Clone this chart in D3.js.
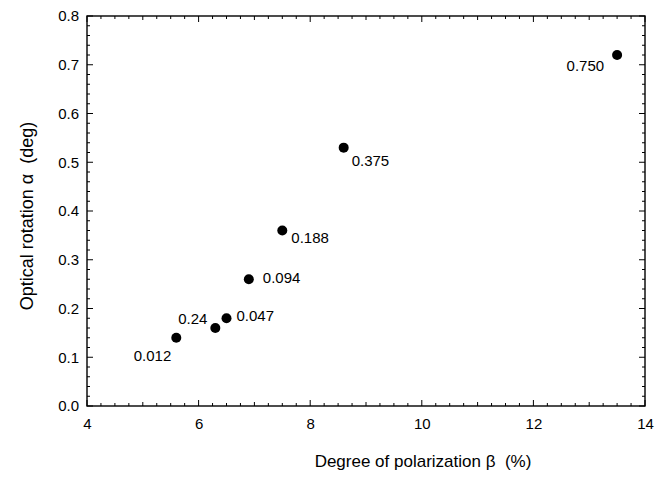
<!DOCTYPE html>
<html><head><meta charset="utf-8">
<script src="https://cdn.jsdelivr.net/npm/d3@7"></script>
<style>body{margin:0;background:#fff}text{font-family:Arial,"Liberation Sans",sans-serif;fill:#000}</style>
</head><body><svg id="c" width="661" height="479"></svg>
<script>
const betaValues = [5.6, 6.3, 6.5, 6.9, 7.5, 8.6, 13.5];
const alphaValues = [0.14, 0.16, 0.18, 0.26, 0.36, 0.53, 0.72];
const pointLabels = ["0.012", "0.24", "0.047", "0.094", "0.188", "0.375", "0.750"];
const labelPlacement = ["bl", "tl", "r", "r2", "br", "br2", "l"];
const xTicks = [4, 6, 8, 10, 12, 14];
const yTicks = [0.0, 0.1, 0.2, 0.3, 0.4, 0.5, 0.6, 0.7, 0.8];

const svg = d3.select("#c");
const L = 87, R = 645, T = 16, B = 406;
const x = d3.scaleLinear().domain([4, 14]).range([L, R]);
const y = d3.scaleLinear().domain([0, 0.8]).range([B, T]);

const g = svg.append("g");
g.append("rect").attr("x", L).attr("y", T).attr("width", R - L).attr("height", B - T)
  .attr("fill", "none").attr("stroke", "#000").attr("stroke-width", 1.4);

const xMinor = d3.range(4, 14.001, 0.25);
const yMinor = d3.range(0, 0.8001, 0.02);
const isMult = (v, m) => Math.abs(v / m - Math.round(v / m)) < 1e-6;

const tk = g.append("g").attr("stroke", "#000").attr("stroke-width", 1);
xMinor.forEach(v => {
  const len = isMult(v, 2) ? 6 : (isMult(v, 1) ? 4 : 3);
  tk.append("line").attr("x1", x(v)).attr("x2", x(v)).attr("y1", B).attr("y2", B - len);
  tk.append("line").attr("x1", x(v)).attr("x2", x(v)).attr("y1", T).attr("y2", T + len);
});
yMinor.forEach(v => {
  const len = isMult(v, 0.1) ? 6 : 3;
  tk.append("line").attr("y1", y(v)).attr("y2", y(v)).attr("x1", L).attr("x2", L + len);
  tk.append("line").attr("y1", y(v)).attr("y2", y(v)).attr("x1", R).attr("x2", R - len);
});

const xAxis = d3.axisBottom(x).tickValues(xTicks).tickFormat(d3.format("d")).tickSize(0).tickPadding(12);
const ax = svg.append("g").attr("transform", `translate(0,${B})`).call(xAxis);
ax.select(".domain").remove();
ax.selectAll("text").style("font-size", "15px").style("font-family", "Arial, 'Liberation Sans', sans-serif").attr("fill", "#000");

const yAxis = d3.axisLeft(y).tickValues(yTicks).tickFormat(d3.format(".1f")).tickSize(0).tickPadding(8);
const ay = svg.append("g").attr("transform", `translate(${L},0)`).call(yAxis);
ay.select(".domain").remove();
ay.selectAll("text").style("font-size", "15px").style("font-family", "Arial, 'Liberation Sans', sans-serif").attr("fill", "#000");

const data = betaValues.map((b, i) => ({ b, a: alphaValues[i], lab: pointLabels[i], pl: labelPlacement[i] }));
svg.append("g").selectAll("circle").data(data).join("circle")
  .attr("cx", d => x(d.b)).attr("cy", d => y(d.a)).attr("r", 5).attr("fill", "#000");

const off = {
  bl: [-5, 23, "end"], tl: [-8, -4, "end"], r: [10, 3, "start"], r2: [14, 4, "start"],
  br: [9, 12, "start"], br2: [8, 18, "start"], l: [-13, 16, "end"]
};
svg.append("g").selectAll("text").data(data).join("text")
  .attr("x", d => x(d.b) + off[d.pl][0]).attr("y", d => y(d.a) + off[d.pl][1])
  .attr("text-anchor", d => off[d.pl][2]).style("font-size", "15px").text(d => d.lab);

svg.append("text").attr("x", 423).attr("y", 467).attr("text-anchor", "middle")
  .style("font-size", "17px").text("Degree of polarization \u03b2\u00a0 (%)");
svg.append("text").attr("transform", `translate(27,216) rotate(-90)`).attr("text-anchor", "middle")
  .attr("dy", "0.35em").style("font-size", "18px").text("Optical rotation \u03b1\u00a0 (deg)");
</script></body></html>
